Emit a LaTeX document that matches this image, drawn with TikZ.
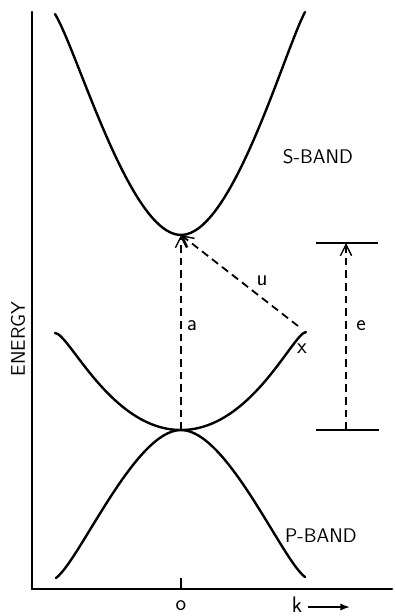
\documentclass[tikz,border=0pt]{standalone}
\usetikzlibrary{positioning, arrows.meta}

\begin{document}
\begin{tikzpicture}[
		x=0.025cm, y=-0.025cm,
		>={Straight Barb[length=2.8mm, width=2.8mm, line width=1pt]},
		% Styles for axes and bands
		axis/.style={line width=1.8pt, line cap=round},
		band/.style={line width=1.7pt, line cap=round},
		% Style for the transitions
		transition/.style={->, line width=1.3pt, dash pattern=on 5.5pt off 3.5pt},
		level/.style={line width=1.1pt},
		% Styles for the labels
		lbl/.style={font=\fontsize{14}{16}\selectfont\sffamily, inner sep=1pt},
		sym/.style={font=\fontsize{16}{18}\selectfont\sffamily, inner sep=1pt}
		]
		
		\useasboundingbox (0,0) rectangle (394,616);
		
		% ==========================================
		% 1. THE AXES
		% ==========================================
		\coordinate (origin) at (32,589);
		\coordinate (ytop) at (32,12);
		\coordinate (xend) at (392,589);
		\coordinate (tick) at (181,589);
		\draw[axis] (ytop) -- (origin) -- (xend);
		\draw[line width=1.3pt] (tick) -- ++(0,-11);
		
		\node[lbl, rotate=90] (energy) at (18,339) {ENERGY};
		\node[sym] (zero) at (181,606) {o};
		\node[sym] (kval) at (297,605) {k};
		\draw[-{Latex[length=2.4mm, width=1.8mm]}, line width=1.1pt] (308,607) -- (350,607);
		
		% ==========================================
		% 2. THE S-BAND
		% ==========================================
		\coordinate (smin) at (181,235);
		\draw[band] (55,14) .. controls (78,52) and (130,235) .. (smin)
			.. controls (232,235) and (284,52) .. (305,12);
		\node[lbl] (sband) at (318,157) {S-BAND};
		
		% ==========================================
		% 3. THE P-BAND
		% ==========================================
		\coordinate (vtop) at (181,430);
		% upper branch
		\draw[band] (55,333) .. controls (69,333) and (111,430) .. (vtop)
			.. controls (251,430) and (293,333) .. (306,332);
		% lower branch
		\draw[band] (56,578) .. controls (80,560) and (135,430) .. (vtop)
			.. controls (227,430) and (282,560) .. (305,577);
		\node[lbl] (pband) at (321,536) {P-BAND};
		
		% ==========================================
		% 4. THE TRANSITIONS
		% ==========================================
		\coordinate (xpt) at (298,326);
		\draw[transition] (vtop) -- (smin);
		\draw[transition] (xpt) -- (smin);
		\node[sym] (alabel) at (192,326) {a};
		\node[sym] (ulabel) at (262,281) {u};
		\node[sym] (xlabel) at (302,349) {x};
		
		% energy gap marker
		\coordinate (etopl) at (316,243);
		\coordinate (etopr) at (378,243);
		\coordinate (ebotl) at (316,430);
		\coordinate (ebotr) at (379,430);
		\coordinate (etop) at (346,243);
		\coordinate (ebot) at (346,430);
		\draw[level] (etopl) -- (etopr);
		\draw[level] (ebotl) -- (ebotr);
		\draw[transition] (ebot) -- (etop);
		\node[sym] (elabel) at (361,326) {e};
		
	\end{tikzpicture}
\end{document}
